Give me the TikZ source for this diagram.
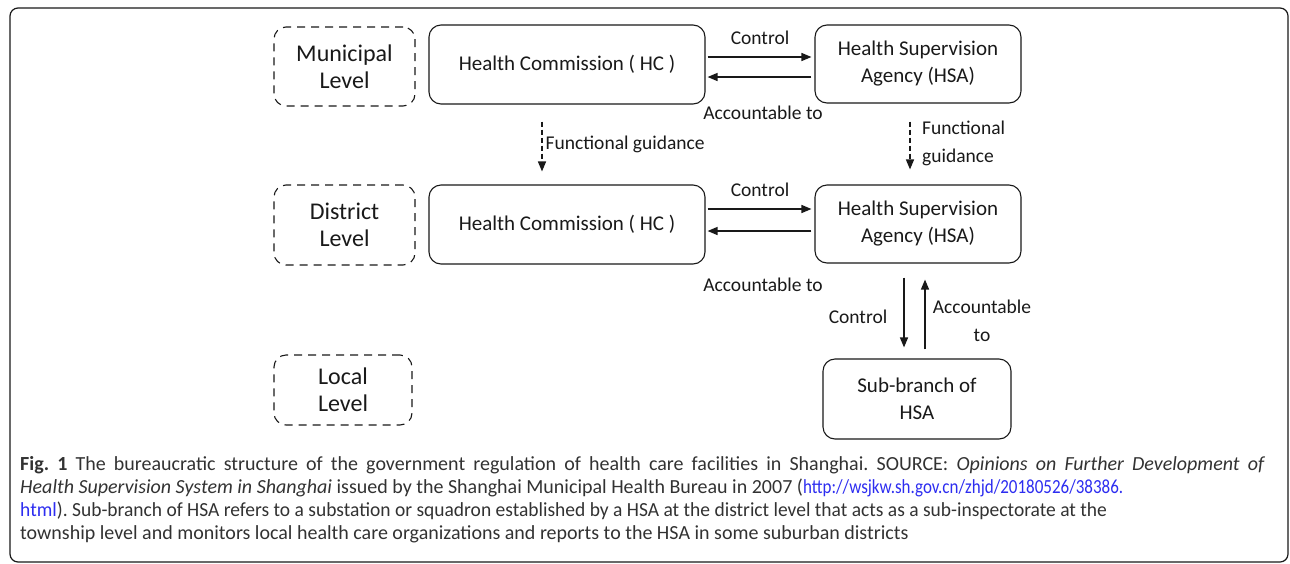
\documentclass[tikz,border=0pt]{standalone}
\usepackage{fontspec}
\setmainfont{Carlito}
\usepackage{tikz}
\usetikzlibrary{arrows.meta,positioning}
\frenchspacing
\definecolor{linkblue}{RGB}{45,45,240}
\definecolor{capgray}{RGB}{50,50,50}
\definecolor{ink}{RGB}{25,25,25}
\tikzstyle{box}=[draw=ink,text=ink,rounded corners=12pt,line width=1.1pt,align=center,font=\fontsize{21}{27}\selectfont]
\tikzstyle{level}=[box,dash pattern=on 8pt off 6pt,font=\fontsize{24}{27}\selectfont]
\tikzstyle{lbl}=[text=ink,align=center,inner sep=0pt,font=\fontsize{19.5}{28}\selectfont]
\tikzstyle{link}=[draw=ink,-{Triangle[length=10pt,width=8pt]},line width=1.4pt]
\tikzstyle{caption}=[text=capgray,inner sep=0pt,anchor=base west,font=\fontsize{20}{23}\selectfont]

\begin{document}
\begin{tikzpicture}[x=1pt,y=-1pt]
    \useasboundingbox (0,0) rectangle (1290,563);
    \draw[ink,line width=1.2pt,rounded corners=8pt] (10,8) rectangle (1288,562);

    % levels
    \node[level,minimum width=141pt,minimum height=79pt] (mlevel) at (344.5,66.5) {Municipal\\Level};
    \node[level,minimum width=141pt,minimum height=80pt] (dlevel) at (344.5,225) {District\\Level};
    \node[level,minimum width=138pt,minimum height=70pt] (llevel) at (343,390) {Local\\Level};

    % offices
    \node[box,minimum width=276pt,minimum height=79pt] (mhc) at (567,64.5) {Health Commission ( HC )};
    \node[box,minimum width=276pt,minimum height=79pt] (dhc) at (567,224.5) {Health Commission ( HC )};
    \node[box,minimum width=206pt,minimum height=78pt] (mhsa) at (918,64) {Health Supervision\\Agency (HSA)};
    \node[box,minimum width=206pt,minimum height=78pt] (dhsa) at (918,224) {Health Supervision\\Agency (HSA)};
    \node[box,minimum width=188pt,minimum height=80pt] (sub) at (917,399) {Sub-branch of\\HSA};

    % control / accountable
    \draw[link,shorten <=2pt,shorten >=3pt] ([yshift=7.5pt]mhc.east) -- ([yshift=7.5pt]mhc.east -| mhsa.west)
        node[lbl,midway,above=12pt] (mctrl) {Control};
    \draw[link,shorten <=3pt,shorten >=2pt] ([yshift=-13pt]mhsa.west) -- ([yshift=-13pt]mhsa.west -| mhc.east);
    \node[lbl] (macc) at (763,113) {Accountable to};

    \draw[link,shorten <=2pt,shorten >=3pt] ([yshift=15.5pt]dhc.east) -- ([yshift=15.5pt]dhc.east -| dhsa.west)
        node[lbl,midway,above=12pt] (dctrl) {Control};
    \draw[link,shorten <=3pt,shorten >=2pt] ([yshift=-7pt]dhsa.west) -- ([yshift=-7pt]dhsa.west -| dhc.east);
    \node[lbl] (dacc) at (763,285) {Accountable to};

    \draw[link,shorten <=14pt,shorten >=11pt] ([xshift=-14pt]dhsa.south) -- ([xshift=-14pt]dhsa.south |- sub.north);
    \draw[link,shorten <=9pt,shorten >=16pt] ([xshift=7pt]dhsa.south |- sub.north) -- ([xshift=7pt]dhsa.south);
    \node[lbl] (sctrl) at (858,317) {Control};
    \node[lbl] (sacc) at (982,321) {Accountable\\to};

    % functional guidance
    \draw[link,dash pattern=on 5pt off 3pt,shorten <=17pt,shorten >=13pt] ([xshift=-25pt]mhc.south) -- ([xshift=-25pt]mhc.south |- dhc.north)
        node[lbl,midway,anchor=west,xshift=3pt] (mguide) {Functional guidance};
    \draw[link,dash pattern=on 5pt off 3pt,shorten <=18pt,shorten >=15pt] ([xshift=-8pt]mhsa.south) -- ([xshift=-8pt]mhsa.south |- dhsa.north);
    \node[lbl,align=left,anchor=west] (hguide) at (922,143.5) {Functional\\guidance};

    % caption
    \node[caption] (cap1) at (20,470) {\makebox[1245pt][s]{\textbf{Fig. 1} The bureaucratic structure of the government regulation of health care facilities in Shanghai. SOURCE: \textit{Opinions on Further Development of}}};
    \node[caption] (cap2) at (20,493) {\textit{Health Supervision System in Shanghai} issued by the Shanghai Municipal Health Bureau in 2007 (\scalebox{0.85}[1]{\textcolor{linkblue}{http://wsjkw.sh.gov.cn/zhjd/20180526/38386.}}};
    \node[caption] (cap3) at (20,516) {\scalebox{0.975}[1]{\textcolor{linkblue}{html}). Sub-branch of HSA refers to a substation or squadron established by a HSA at the district level that acts as a sub-inspectorate at the}};
    \node[caption] (cap4) at (20,539) {township level and monitors local health care organizations and reports to the HSA in some suburban districts};
\end{tikzpicture}
\end{document}
